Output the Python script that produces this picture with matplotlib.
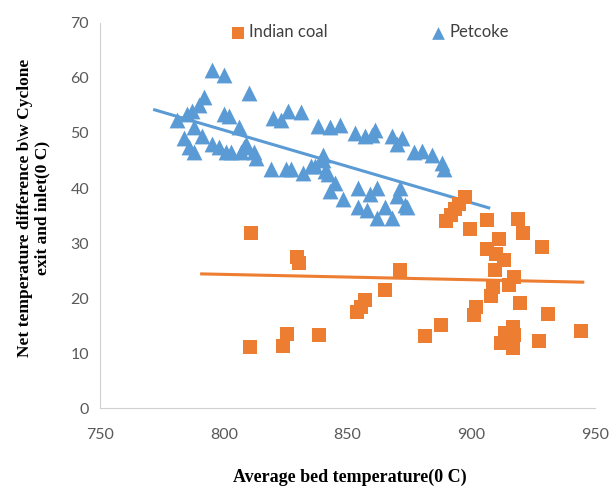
import matplotlib.pyplot as plt

# Indian coal (x: average bed temperature, y: net temperature difference)
coal_x = [811.0, 810.6, 823.9, 825.5, 829.5, 830.3, 838.4, 853.6, 855.2, 857.2,
          864.9, 871.3, 881.4, 887.9, 889.8, 891.8, 893.4, 895.0, 897.4, 899.3,
          901.0, 901.9, 906.4, 906.4, 908.0, 908.6, 909.6, 910.0, 911.0, 913.3,
          913.6, 915.3, 916.7, 916.9, 917.1, 917.3, 912.0, 919.0, 919.7, 921.0,
          927.4, 928.7, 931.1, 944.4]
coal_y = [31.8, 11.1, 11.3, 13.5, 27.5, 26.4, 13.3, 17.5, 18.4, 19.6,
          21.5, 25.1, 13.1, 15.2, 34.0, 35.1, 36.2, 37.1, 38.4, 32.5,
          16.9, 18.4, 34.2, 28.9, 20.4, 22.0, 25.1, 28.0, 30.8, 27.0,
          13.6, 22.4, 14.8, 10.9, 13.3, 23.8, 11.9, 34.3, 19.1, 31.9,
          12.2, 29.3, 17.1, 14.1]

# Petcoke
pet_x = [781, 784, 785, 787, 786, 788, 788, 790, 791, 792,
         795, 795, 798, 800, 801, 800, 802, 803, 806, 807,
         808, 809, 810, 812, 813, 819, 820, 823, 825, 826,
         827, 831, 832, 835, 837, 838, 840, 840, 841, 842,
         843, 843, 845, 847, 848, 853, 854, 854, 857, 858,
         859, 860, 861, 862, 862, 865, 868, 868, 870, 870,
         871, 872, 873, 874, 877, 880, 884, 888, 889]
pet_y = [52.3, 49.0, 53.5, 54.0, 47.5, 46.5, 51.0, 55.0, 49.5, 56.5,
         61.5, 48.0, 47.5, 60.5, 46.5, 53.5, 53.0, 46.5, 51.0, 46.5,
         47.5, 48.0, 57.3, 46.5, 45.5, 43.5, 52.8, 52.3, 43.5, 54.0,
         43.5, 53.8, 42.7, 44.0, 44.0, 51.2, 46.0, 45.0, 43.0, 42.5,
         51.0, 39.5, 41.0, 51.5, 38.0, 50.0, 36.5, 40.0, 49.5, 36.0,
         39.0, 49.7, 50.5, 34.5, 40.0, 36.5, 34.5, 49.5, 48.0, 38.5,
         40.0, 49.0, 37.0, 36.5, 46.5, 46.8, 46.0, 44.5, 43.5]

# linear trendlines (end points)
coal_trend_x = [791, 945]
coal_trend_y = [24.4, 22.9]
pet_trend_x = [772, 907]
pet_trend_y = [54.2, 36.4]

orange = "#ED7D31"
blue = "#5B9BD5"

fig = plt.figure(figsize=(6.11, 4.86), dpi=100)
ax = fig.add_axes([0.164, 0.160, 0.810, 0.793])

ax.scatter(coal_x, coal_y, marker="s", s=100, color=orange, linewidths=0,
           label="Indian coal", zorder=3)
ax.scatter(pet_x, pet_y, marker="^", s=130, color=blue, linewidths=0,
           label="Petcoke", zorder=3)

ax.plot(coal_trend_x, coal_trend_y, color=orange, lw=2.2, zorder=2)
ax.plot(pet_trend_x, pet_trend_y, color=blue, lw=2.2, zorder=2)

ax.set_xlim(750, 950)
ax.set_ylim(0, 70)
ax.set_xticks(range(750, 951, 50))
ax.set_yticks(range(0, 71, 10))
ax.tick_params(length=0, labelsize=11.5, labelcolor="#595959", pad=8)
ax.tick_params(axis="x", pad=14)
for lbl in ax.get_xticklabels() + ax.get_yticklabels():
    lbl.set_family("Lato")
for s in ["top", "right"]:
    ax.spines[s].set_visible(False)
for s in ["left", "bottom"]:
    ax.spines[s].set_color("#d0d0d0")

fig.text(0.573, 0.008, "Average bed temperature(0 C)", ha="center",
         fontsize=13, fontweight="bold", family="Liberation Serif")
fig.text(0.055, 0.572, "Net temperature difference b\\w Cyclone\nexit and inlet(0 C)",
         ha="center", va="center", rotation=90, fontsize=12.5,
         fontweight="bold", family="Liberation Serif", linespacing=1.1)

leg = ax.legend(loc="upper center", bbox_to_anchor=(0.545, 1.035), ncol=2,
                frameon=False, columnspacing=6.2, handlelength=0.8,
                handletextpad=0.3, markerscale=0.8,
                prop={"family": "Lato", "size": 12})
for t in leg.get_texts():
    t.set_color("#404040")

fig.savefig("out.png", dpi=100)
